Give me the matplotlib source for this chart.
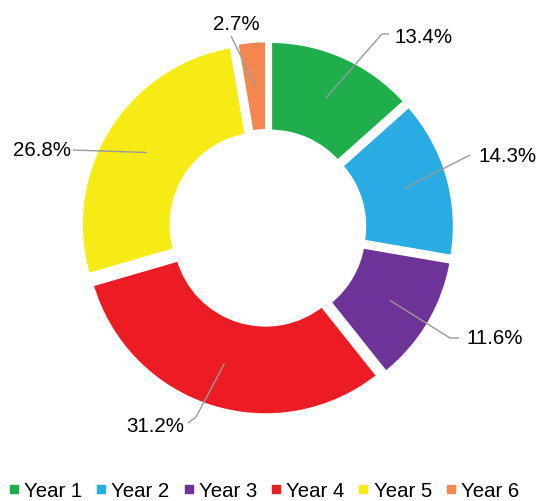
import numpy as np
import matplotlib
matplotlib.use("Agg")
import matplotlib.pyplot as plt
from matplotlib.lines import Line2D

# ---- data ----
categories = ["Year 1", "Year 2", "Year 3", "Year 4", "Year 5", "Year 6"]
values = [13.4, 14.3, 11.6, 31.2, 26.8, 2.7]
colors = ["#1FAE4B", "#2AABE2", "#6E3396", "#EC1C24", "#F6EB14", "#F4874F"]

# ---- layout (pixels -> data units) ----
W, H = 541, 502
PX = 181.0            # pixels per data unit (pie radius)
CX, CY = 267.5, 229.0  # pie centre in image pixels (from top-left)
EXPLODE = 0.036
WIDTH = 0.5


def to_data(x, y):
    return (x - CX) / PX, (CY - y) / PX


# per-label layout: path of leader line after the slice point (pixels), text anchor (pixels), ha
label_layout = [
    ([(382, 35), (389, 35)], (395, 37), "left", "center"),
    ([(470, 156)], (478, 156), "left", "center"),
    ([(450, 339), (459, 339)], (466, 339), "left", "center"),
    ([(196, 418), (188, 424)], (184, 426), "right", "center"),
    ([(73, 151)], (71, 151), "right", "center"),
    ([(231, 37)], (236.5, 24), "center", "center"),
]

plt.rcParams["font.family"] = ["Liberation Sans", "DejaVu Sans"]

fig = plt.figure(figsize=(W / 100, H / 100), dpi=100)
ax = fig.add_axes([0, 0, 1, 1])

wedges, _ = ax.pie(
    values,
    colors=colors,
    startangle=90,
    counterclock=False,
    explode=[EXPLODE] * len(values),
    radius=1.0,
    wedgeprops=dict(width=WIDTH, edgecolor="white", linewidth=2.8),
)

total = float(np.sum(values))
cum = np.cumsum(values)
mid_angles = np.deg2rad(90 - 360 * (cum - np.array(values) / 2) / total)
r_mid = 1.0 - WIDTH / 2 + EXPLODE

for val, ang, (path, tpos, ha, va) in zip(values, mid_angles, label_layout):
    xs = [r_mid * np.cos(ang)]
    ys = [r_mid * np.sin(ang)]
    for p in path:
        dx, dy = to_data(*p)
        xs.append(dx)
        ys.append(dy)
    ax.plot(xs, ys, color="#9A9A9A", lw=1.0, solid_capstyle="butt", zorder=3)
    tx, ty = to_data(*tpos)
    ax.text(tx, ty, f"{val:.1f}%", ha=ha, va=va, fontsize=14.8, color="black")

ax.set_xlim(-CX / PX, (W - CX) / PX)
ax.set_ylim(-(H - CY) / PX, CY / PX)
ax.set_aspect("equal", adjustable="datalim")
ax.axis("off")

handles = [
    Line2D([0], [0], marker="s", linestyle="none", markersize=5.5,
           markerfacecolor=c, markeredgecolor=c)
    for c in colors
]
fig.legend(
    handles, categories,
    loc="center", bbox_to_anchor=(264 / W, 1 - 492 / H),
    ncol=6, frameon=False, fontsize=14.7,
    handlelength=0.5, handletextpad=0.25, columnspacing=0.68,
    borderaxespad=0, borderpad=0,
)

fig.savefig("out.png", dpi=100)
